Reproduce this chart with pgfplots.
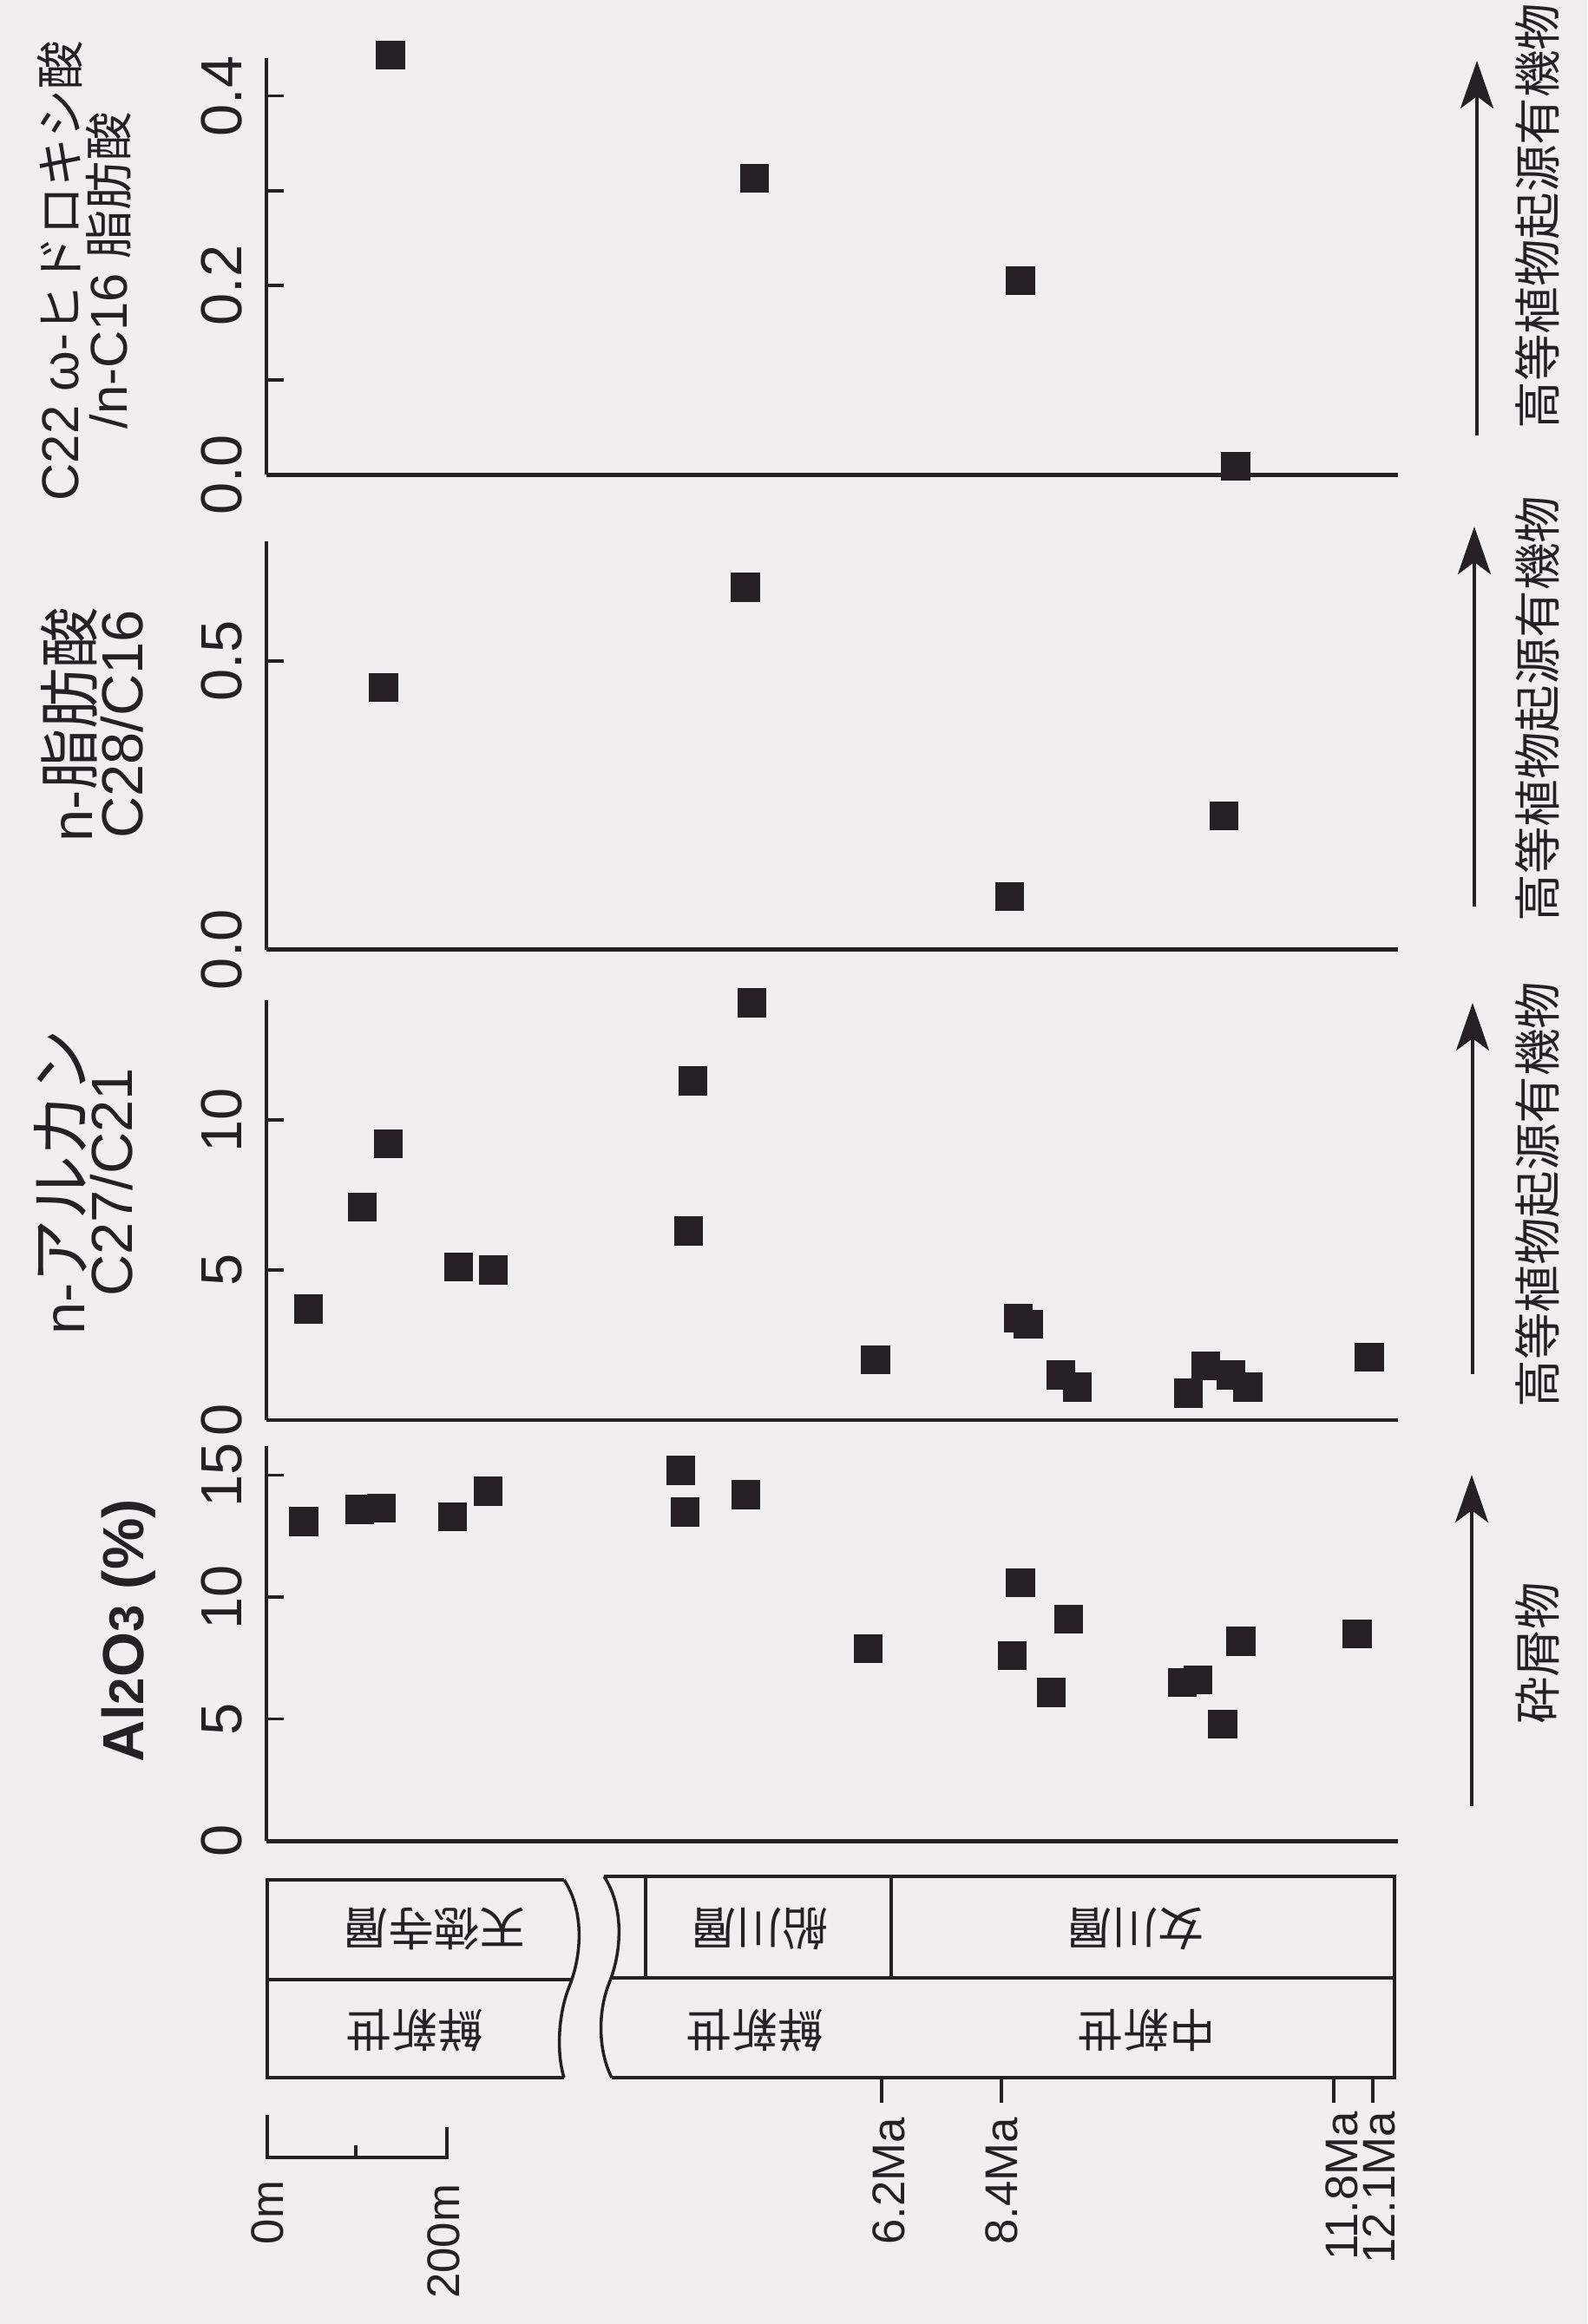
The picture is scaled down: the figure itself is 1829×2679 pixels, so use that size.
\documentclass[border=0pt]{standalone}
\usepackage{pgfplots}
\usepackage{pgfplotstable}
\pgfplotsset{compat=1.18}
\usepackage{fontspec}
\setmainfont{Liberation Sans}
\newfontfamily\cjk{Noto Sans CJK JP}
\usetikzlibrary{arrows.meta}
\definecolor{ink}{RGB}{38,32,36}
\definecolor{paper}{RGB}{240,238,239}

% x = stratigraphic position (m, from the 0m--200m scale bar), y = value
\pgfplotstableread{
x y
41.2 13.1
103.4 13.6
127.5 13.65
206.8 13.3
246.4 14.35
460.9 15.2
465.7 13.5
533.3 14.2
669.6 7.9
839.1 10.6
829.9 7.6
892.8 9.1
873.4 6.1
1019.3 6.5
1036.7 6.6
1063.8 4.8
1084.1 8.2
1213.5 8.5
}\alumina

\pgfplotstableread{
x y
46.4 3.7
106.8 7.1
135.3 9.2
213.5 5.1
252.2 5.0
474.4 11.3
469.6 6.3
540.1 13.9
677.9 2.0
836.7 3.4
847.8 3.2
884.1 1.5
902.4 1.1
1026.1 0.9
1045.4 1.8
1073.4 1.5
1091.8 1.1
1227.1 2.1
}\alkane

\pgfplotstableread{
x y
130.0 0.454
533.0 0.628
827.1 0.092
1065.2 0.232
}\fatty

\pgfplotstableread{
x y
137.8 0.443
543.0 0.313
839.1 0.205
1078.3 0.009
}\hydroxy

\pgfplotsset{
  panel/.style={
    scale only axis, width=13.03cm,
    xmin=0, xmax=1259, ymin=0,
    axis x line*=bottom, axis y line*=left,
    xtick=\empty,
    axis line style={ink, line width=1.3pt},
    tick style={ink, line width=1pt},
    tick align=inside,
    major tick length=0.2cm, minor tick length=0.2cm,
    ytick pos=left,
    yticklabel style={rotate=90, anchor=south, inner xsep=0pt, inner ysep=0.27cm,
      font=\fontsize{19}{20}\selectfont, text=ink},
    clip=false,
    anchor=south west,
  },
  sq/.style={only marks, mark=square*, mark size=0.16cm,
    mark options={draw=ink, fill=ink}},
}

\begin{document}
\begin{tikzpicture}
\begin{scope}[x=0.01cm, y=-0.01cm]
\fill[paper] (0,0) rectangle (1829,2679);
\end{scope}

% C22 omega-hydroxy acid / n-C16 fatty acid
\begin{axis}[panel, at={(3.07cm,-5.47cm)}, height=4.80cm, ymax=0.44,
  ytick={0,0.2,0.4}, yticklabels={0.0,0.2,0.4}, minor ytick={0.1,0.3}]
\addplot[sq] table[x=x, y=y] {\hydroxy};
\end{axis}

% n-fatty acid C28/C16
\begin{axis}[panel, at={(3.07cm,-10.94cm)}, height=4.70cm, ymax=0.707,
  ytick={0,0.5}, yticklabels={0.0,0.5}]
\addplot[sq] table[x=x, y=y] {\fatty};
\end{axis}

% n-alkane C27/C21
\begin{axis}[panel, at={(3.07cm,-16.36cm)}, height=4.84cm, ymax=14,
  ytick={0,5,10}, yticklabels={0,5,10}]
\addplot[sq] table[x=x, y=y] {\alkane};
\end{axis}

% Al2O3
\begin{axis}[panel, at={(3.07cm,-21.21cm)}, height=4.55cm, ymax=16.2,
  ytick={0,5,10,15}, yticklabels={0,5,10,15}]
\addplot[sq] table[x=x, y=y] {\alumina};
\end{axis}

\begin{scope}[x=0.01cm, y=-0.01cm, ink]
% axis titles
\node[rotate=90, align=center, inner sep=0pt, text=ink] at (97,312)
  {\fontsize{17}{18.5}\selectfont C22 ω-{\cjk\fontsize{16}{16}\selectfont ヒドロキシ酸}\\
   \fontsize{17}{18.5}\selectfont /n-C16 {\cjk\fontsize{16}{16}\selectfont 脂肪酸}};
\node[rotate=90, align=center, inner sep=0pt, text=ink] at (106,835)
  {\fontsize{19}{19}\selectfont n-{\cjk\fontsize{20}{20}\selectfont 脂肪酸}\\
   \fontsize{19}{19}\selectfont C28/C16};
\node[rotate=90, align=center, inner sep=0pt, text=ink] at (96,1363)
  {\fontsize{19}{21}\selectfont n-{\cjk\fontsize{21}{21}\selectfont アルカン}\\
   \fontsize{19}{21}\selectfont C27/C21};
\node[rotate=90, inner sep=0pt, text=ink] at (148,1880)
  {\fontsize{19}{20}\selectfont\bfseries Al{\fontsize{16}{16}\selectfont 2}O{\fontsize{16}{16}\selectfont 3} (\%)};

% arrows and interpretations on the right
\begin{scope}[line width=1.3pt, -{Stealth[length=0.55cm, width=0.38cm, inset=0.14cm]}]
\draw (1702,502) -- (1702,70);
\draw (1699,1045) -- (1699,607);
\draw (1697,1584) -- (1697,1156);
\draw (1696,2082) -- (1696,1700);
\end{scope}
\begin{scope}[every node/.style={rotate=90, inner sep=0pt, text=ink,
    font=\cjk\fontsize{15.5}{16}\selectfont}]
\node at (1772,249) {高等植物起源有機物};
\node at (1772,817) {高等植物起源有機物};
\node at (1772,1377) {高等植物起源有機物};
\node at (1772,1906) {砕屑物};
\end{scope}

% stratigraphic column
\draw[line width=1.2pt] (650,2167) -- (308,2167) -- (308,2395) -- (650,2395);
\draw[line width=1.2pt] (308,2282) -- (659,2282);
\draw[line width=1pt] (650,2167) .. controls (672,2200) and (672,2250) .. (656,2290)
   .. controls (642,2325) and (642,2370) .. (650,2395);
\draw[line width=1.2pt] (696,2163) -- (1607,2163) -- (1607,2395) -- (705,2395);
\draw[line width=1pt] (696,2163) .. controls (718,2196) and (718,2246) .. (702,2286)
   .. controls (688,2321) and (690,2366) .. (705,2395);
\draw[line width=1.2pt] (703,2280) -- (1607,2280);
\draw[line width=0.9pt] (744,2163) -- (744,2280);
\draw[line width=0.9pt] (1027,2163) -- (1027,2280);
\begin{scope}[every node/.style={rotate=180, inner sep=0pt, text=ink,
    font=\cjk\fontsize{15}{16}\selectfont}]
\node at (500,2223) {天徳寺層};
\node at (478,2340) {鮮新世};
\node at (875,2223) {船川層};
\node at (1308,2223) {女川層};
\node at (870,2340) {鮮新世};
\node at (1321,2340) {中新世};
\end{scope}

% age ticks
\draw[line width=0.9pt] (1016,2397) -- (1016,2424);
\draw[line width=0.9pt] (1154,2397) -- (1154,2424);
\draw[line width=0.9pt] (1537,2397) -- (1537,2424);
\draw[line width=0.9pt] (1582,2397) -- (1582,2424);
\begin{scope}[every node/.style={rotate=90, anchor=east, inner sep=0pt, text=ink,
    font=\fontsize{15}{16}\selectfont}]
\node at (1024,2440) {6.2Ma};
\node at (1154,2440) {8.4Ma};
\node at (1546,2433) {11.8Ma};
\node at (1589,2433) {12.1Ma};
\node at (308,2513) {0m};
\node at (511,2517) {200m};
\end{scope}

% scale bar
\draw[line width=1pt] (308,2438) -- (308,2487) -- (515,2487) -- (515,2452);
\draw[line width=1pt] (410,2487) -- (410,2473);

\useasboundingbox (0,0) rectangle (1829,2679);
\end{scope}
\end{tikzpicture}
\end{document}
